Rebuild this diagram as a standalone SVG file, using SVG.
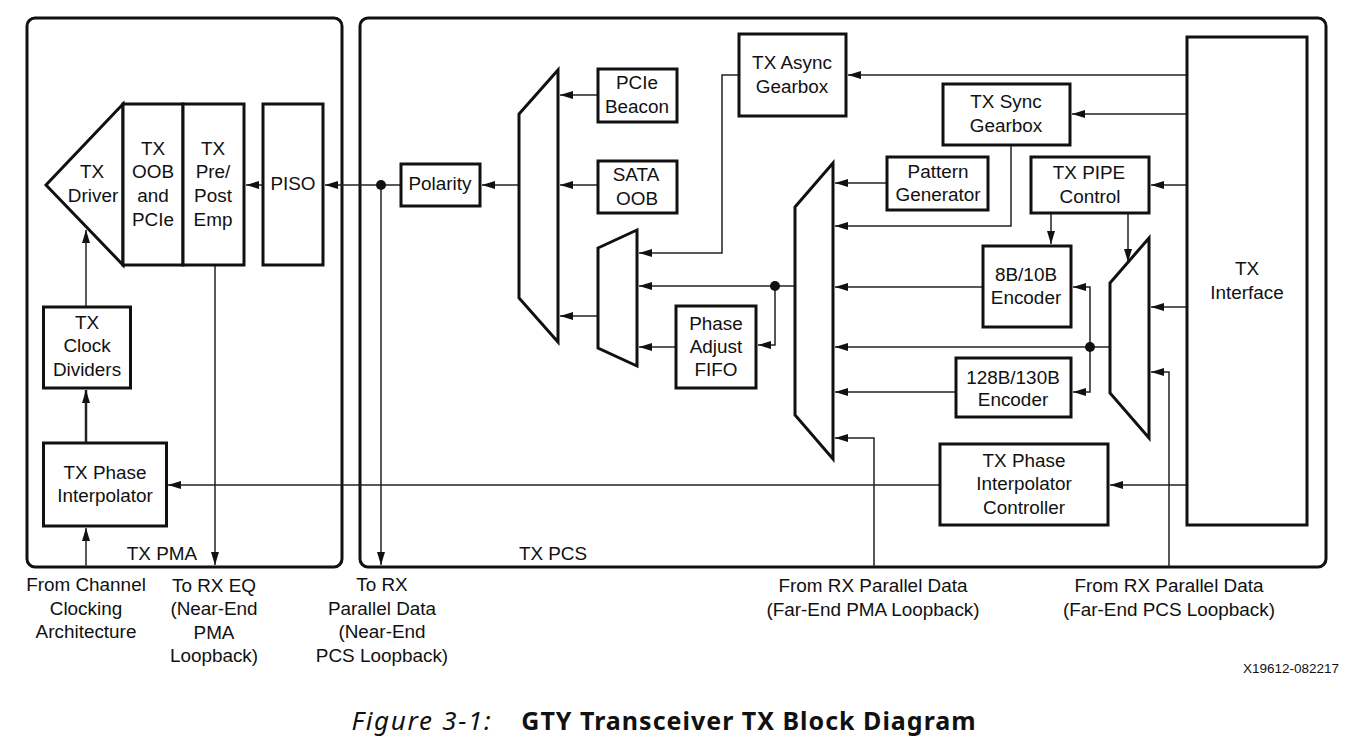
<svg xmlns="http://www.w3.org/2000/svg" width="1360" height="747" viewBox="0 0 1360 747">
<style>
.b{fill:#fff;stroke:#111;stroke-width:3;stroke-linejoin:miter}
.p{fill:none;stroke:#111;stroke-width:3}
.c{fill:none;stroke:#222;stroke-width:1.5;marker-end:url(#a)}
text{font-family:"Liberation Sans",Arial,sans-serif;font-size:18.9px;fill:#111;text-anchor:middle}
.cap{font-family:"Noto Sans","Open Sans",sans-serif;font-size:25px;letter-spacing:1px}
</style>
<defs>
<marker id="a" markerUnits="userSpaceOnUse" markerWidth="14" markerHeight="12" refX="13" refY="5" orient="auto"><path d="M0,1L13,5L0,9Z" fill="#111"/></marker>
</defs>
<rect id="tx-pma" class="p" x="27" y="18" width="315" height="549" rx="8"/>
<rect id="tx-pcs" class="p" x="360" y="18" width="966" height="549" rx="8"/>
<g id="connectors">
<path class="c" d="M263,185H246"/>
<path class="c" d="M400,185H325"/>
<path class="c" d="M381,185V565"/>
<path class="c" d="M519,185H482"/>
<path class="c" d="M598,95H560"/>
<path class="c" d="M598,185H560"/>
<path class="c" d="M598,316H560"/>
<path class="c" d="M739,75H722V253H639"/>
<path class="c" d="M1187,75H848"/>
<path class="c" d="M795,286H639"/>
<path class="c" d="M775,286V345H758"/>
<path class="c" d="M676,347H639"/>
<path class="c" d="M887,183H835"/>
<path class="c" d="M1011,145V226H835"/>
<path class="c" d="M1187,114H1072"/>
<path class="c" d="M1187,185H1151"/>
<path class="c" d="M1051,213V244"/>
<path class="c" d="M1128,213V262"/>
<path class="c" d="M983,287H835"/>
<path class="c" d="M1090,347V287H1073"/>
<path class="c" d="M1110,347H835"/>
<path class="c" d="M1090,347V392H1073"/>
<path class="c" d="M956,392H835"/>
<path class="c" d="M1187,307H1151"/>
<path class="c" d="M874,567V438H835"/>
<path class="c" d="M1169,567V372H1151"/>
<path class="c" d="M1187,485H1110"/>
<path class="c" d="M940,485H168"/>
<path class="c" d="M215,265V565"/>
<path class="c" d="M86,307V230"/>
<path class="c" style="stroke-width:2.5" d="M86,443V390"/>
<path class="c" d="M86,567V528"/>
<circle cx="381" cy="185" r="5" fill="#111"/>
<circle cx="775" cy="286" r="5" fill="#111"/>
<circle cx="1090" cy="347" r="5" fill="#111"/>
</g>
<g id="tx-driver"><path class="b" d="M123,104L46,185L123,265Z"/><text x="92" y="178">TX</text><text x="93" y="202">Driver</text></g>
<g id="tx-oob"><rect class="b" x="123" y="104" width="60" height="161"/><text x="153" y="155">TX</text><text x="153" y="178">OOB</text><text x="153" y="202">and</text><text x="153" y="226">PCIe</text></g>
<g id="tx-pre"><rect class="b" x="183" y="104" width="61" height="161"/><text x="213" y="155">TX</text><text x="213" y="178">Pre/</text><text x="213" y="202">Post</text><text x="213" y="226">Emp</text></g>
<g id="piso"><rect class="b" x="263" y="104" width="60" height="161"/><text x="293" y="190">PISO</text></g>
<g id="polarity"><rect class="b" x="401" y="164" width="79" height="42"/><text x="440" y="190">Polarity</text></g>
<g id="clock-dividers"><rect class="b" x="43.500" y="307" width="87" height="81"/><text x="87" y="329">TX</text><text x="87" y="352">Clock</text><text x="87" y="376">Dividers</text></g>
<g id="phase-interp"><rect class="b" x="43.500" y="443" width="123" height="83"/><text x="105" y="479">TX Phase</text><text x="105" y="502">Interpolator</text></g>
<g id="mux-out"><path class="b" d="M519,114L558,70V342L519,298Z"/></g>
<g id="mux-small"><path class="b" d="M598,248L637,230V366L598,348Z"/></g>
<g id="pcie-beacon"><rect class="b" x="598" y="69" width="79" height="53"/><text x="637" y="89">PCIe</text><text x="637" y="113">Beacon</text></g>
<g id="sata-oob"><rect class="b" x="598" y="161" width="79" height="52"/><text x="636" y="181">SATA</text><text x="637" y="205">OOB</text></g>
<g id="async-gearbox"><rect class="b" x="739" y="34" width="107" height="82"/><text x="792" y="69">TX Async</text><text x="792" y="93">Gearbox</text></g>
<g id="phase-fifo"><rect class="b" x="676" y="306" width="80" height="82"/><text x="716" y="330">Phase</text><text x="716" y="353">Adjust</text><text x="716" y="376">FIFO</text></g>
<g id="mux-mid"><path class="b" d="M795,207L833,163V459L795,415Z"/></g>
<g id="pattern-gen"><rect class="b" x="887" y="157" width="101" height="53"/><text x="938" y="178">Pattern</text><text x="938" y="201">Generator</text></g>
<g id="sync-gearbox"><rect class="b" x="943" y="84" width="127" height="61"/><text x="1006" y="108">TX Sync</text><text x="1006" y="132">Gearbox</text></g>
<g id="pipe-control"><rect class="b" x="1031" y="157" width="118" height="56"/><text x="1089" y="179">TX PIPE</text><text x="1090" y="203">Control</text></g>
<g id="enc-8b10b"><rect class="b" x="983" y="246" width="88" height="81"/><text x="1026" y="281">8B/10B</text><text x="1026" y="304">Encoder</text></g>
<g id="enc-128b"><rect class="b" x="956" y="358" width="115" height="59"/><text x="1013" y="384">128B/130B</text><text x="1013" y="406">Encoder</text></g>
<g id="mux-right"><path class="b" d="M1110,283L1149,238V438L1110,393Z"/></g>
<g id="pi-controller"><rect class="b" x="940" y="444" width="168" height="81"/><text x="1024" y="467">TX Phase</text><text x="1024" y="490">Interpolator</text><text x="1024" y="514">Controller</text></g>
<g id="tx-interface"><rect class="b" x="1187" y="37" width="120" height="488"/><text x="1247" y="275">TX</text><text x="1247" y="299">Interface</text></g>
<g id="labels">
<text x="162" y="560">TX PMA</text>
<text x="553" y="560">TX PCS</text>
<text x="86" y="591">From Channel</text><text x="86" y="615">Clocking</text><text x="86" y="638">Architecture</text>
<text x="214" y="592">To RX EQ</text><text x="214" y="615">(Near-End</text><text x="214" y="639">PMA</text><text x="214" y="662">Loopback)</text>
<text x="382" y="591">To RX</text><text x="382" y="615">Parallel Data</text><text x="382" y="638">(Near-End</text><text x="382" y="662">PCS Loopback)</text>
<text x="873" y="592">From RX Parallel Data</text><text x="873" y="616">(Far-End PMA Loopback)</text>
<text x="1169" y="592">From RX Parallel Data</text><text x="1169" y="616">(Far-End PCS Loopback)</text>
<text x="1291" y="673" style="font-size:13.5px">X19612-082217</text>
<text class="cap" x="422" y="730" style="font-style:italic;font-size:26px;letter-spacing:1.7px">Figure 3-1:</text>
<text class="cap" x="749" y="730" style="font-weight:bold">GTY Transceiver TX Block Diagram</text>
</g>
</svg>
